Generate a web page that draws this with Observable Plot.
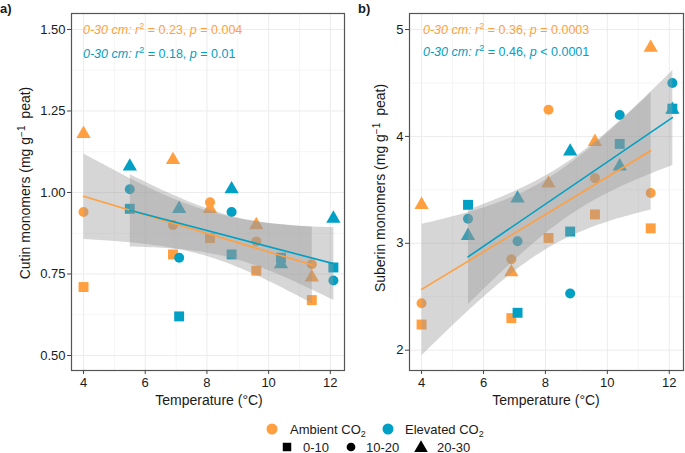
<!DOCTYPE html>
<html><head><meta charset="utf-8">
<script src="https://cdn.jsdelivr.net/npm/d3@7"></script>
<script src="https://cdn.jsdelivr.net/npm/@observablehq/plot@0.6"></script>
<style>
body{margin:0;background:#fff;font-family:"Liberation Sans",Arial,Helvetica,sans-serif;}
#wrap{position:relative;width:685px;height:453px;overflow:hidden;background:#fff}
#wrap > svg{position:absolute}
</style></head><body><div id="wrap"></div>
<script>
// ---- data ----
const ambientTemp = [4, 6.9, 8.1, 9.6, 11.4];
const elevatedTemp = [5.5, 7.1, 8.8, 10.4, 12.1];
const depths = ["0-10", "10-20", "20-30"];

// Cutin monomers (mg g-1 peat)
const cutinAmb_0_10  = [0.71, 0.81, 0.86, 0.76, 0.67];
const cutinAmb_10_20 = [0.94, 0.90, 0.97, 0.85, 0.78];
const cutinAmb_20_30 = [1.18, 1.10, 0.95, 0.90, 0.74];
const cutinElev_0_10  = [0.95, 0.62, 0.81, 0.80, 0.77];
const cutinElev_10_20 = [1.01, 0.80, 0.94, 0.79, 0.73];
const cutinElev_20_30 = [1.08, 0.95, 1.01, 0.78, 0.92];

// Suberin monomers (mg g-1 peat)
const suberinAmb_0_10  = [2.24, 2.30, 3.05, 3.27, 3.14];
const suberinAmb_10_20 = [2.44, 2.85, 4.25, 3.61, 3.47];
const suberinAmb_20_30 = [3.36, 2.73, 3.56, 3.95, 4.83];
const suberinElev_0_10  = [3.36, 2.35, 3.11, 3.93, 4.26];
const suberinElev_10_20 = [3.23, 3.02, 2.53, 4.20, 4.50];
const suberinElev_20_30 = [3.07, 3.42, 3.86, 3.72, 4.25];

const xTicks = [4, 6, 8, 10, 12];
const cutinTicks = [0.50, 0.75, 1.00, 1.25, 1.50];
const suberinTicks = [2, 3, 4, 5];
const statsCutin = [["0.23", "=", "0.004"], ["0.18", "=", "0.01"]];
const statsSuberin = [["0.36", "=", "0.0003"], ["0.46", "<", "0.0001"]];

const ORANGE = "#FF9F40", BLUE = "#00A0C4";
const FONT = '"Liberation Sans", Arial, Helvetica, sans-serif';

function rows(temps, vals, co2, depth) {
  return temps.map((t, i) => ({temp: t, value: vals[i], co2, depth}));
}
const cutin = [
  ...rows(ambientTemp, cutinAmb_0_10, "Ambient", "0-10"),
  ...rows(ambientTemp, cutinAmb_10_20, "Ambient", "10-20"),
  ...rows(ambientTemp, cutinAmb_20_30, "Ambient", "20-30"),
  ...rows(elevatedTemp, cutinElev_0_10, "Elevated", "0-10"),
  ...rows(elevatedTemp, cutinElev_10_20, "Elevated", "10-20"),
  ...rows(elevatedTemp, cutinElev_20_30, "Elevated", "20-30")
];
const suberin = [
  ...rows(ambientTemp, suberinAmb_0_10, "Ambient", "0-10"),
  ...rows(ambientTemp, suberinAmb_10_20, "Ambient", "10-20"),
  ...rows(ambientTemp, suberinAmb_20_30, "Ambient", "20-30"),
  ...rows(elevatedTemp, suberinElev_0_10, "Elevated", "0-10"),
  ...rows(elevatedTemp, suberinElev_10_20, "Elevated", "10-20"),
  ...rows(elevatedTemp, suberinElev_20_30, "Elevated", "20-30")
];

const symbolOf = {"0-10": "square", "10-20": "circle", "20-30": "triangle"};
const rOf = {"0-10": 5.6, "10-20": 5, "20-30": 5.3};
const colorOf = {"Ambient": ORANGE, "Elevated": BLUE};

function panel(data, {width, marginLeft, marginRight, yDomain, yTicks, yFormat, minorY}) {
  const marks = [
    Plot.gridX([5, 7, 9, 11], {stroke: "#f5f5f5", strokeOpacity: 1}),
    Plot.gridY(minorY, {stroke: "#f5f5f5", strokeOpacity: 1}),
    Plot.gridX(xTicks, {stroke: "#ececec", strokeOpacity: 1}),
    Plot.gridY(yTicks, {stroke: "#ececec", strokeOpacity: 1})
  ];
  for (const co2 of ["Ambient", "Elevated"]) {
    for (const dp of depths) {
      marks.push(Plot.dot(data.filter(d => d.co2 === co2 && d.depth === dp), {
        x: "temp", y: "value", symbol: symbolOf[dp], r: rOf[dp], fill: colorOf[co2], stroke: "none"
      }));
    }
  }
  for (const co2 of ["Ambient", "Elevated"]) {
    marks.push(Plot.linearRegressionY(data.filter(d => d.co2 === co2), {
      x: "temp", y: "value", stroke: "none", fill: "#999999", fillOpacity: 0.4, ci: 0.95
    }));
  }
  for (const co2 of ["Ambient", "Elevated"]) {
    marks.push(Plot.linearRegressionY(data.filter(d => d.co2 === co2), {
      x: "temp", y: "value", stroke: colorOf[co2], strokeWidth: 1.6, ci: 0
    }));
  }
  marks.push(Plot.frame({stroke: "#555", strokeWidth: 1.2}));
  marks.push(Plot.axisX(xTicks, {tickSize: 4, tickPadding: 3, stroke: "#444", fill: "#1a1a1a", label: null}));
  marks.push(Plot.axisY(yTicks, {tickSize: 4, tickPadding: 2, stroke: "#444", fill: "#1a1a1a", label: null, tickFormat: yFormat}));
  return Plot.plot({
    width, height: 410,
    marginLeft, marginRight, marginTop: 13, marginBottom: 40,
    x: {domain: [3.61, 12.46]},
    y: {domain: yDomain},
    style: {fontFamily: FONT, fontSize: "13px", background: "transparent", overflow: "visible"},
    marks
  });
}

const wrap = document.getElementById("wrap");

const left = panel(cutin, {
  width: 345, marginLeft: 71, marginRight: 1,
  yDomain: [0.454, 1.549], yTicks: cutinTicks, yFormat: d3.format(".2f"),
  minorY: [0.625, 0.875, 1.125, 1.375]
});
left.style.left = "0px"; left.style.top = "0px";
wrap.appendChild(left);

const right = panel(suberin, {
  width: 340, marginLeft: 64, marginRight: 2,
  yDomain: [1.81, 5.15], yTicks: suberinTicks, yFormat: d3.format("d"),
  minorY: [2.5, 3.5, 4.5]
});
right.style.left = "345px"; right.style.top = "0px";
wrap.appendChild(right);

function decorate(svgEl, {tag, tagX, ylabel, ylabelX, ylabelY, panelCenter, annX, annY, stats}) {
  const svg = d3.select(svgEl);
  const g = svg.append("g").attr("font-family", FONT).attr("fill", "#1a1a1a").attr("text-anchor", "start");
  g.append("text").attr("x", tagX).attr("y", 13).attr("font-size", 13).attr("font-weight", "bold")
    .attr("text-anchor", "start").text(tag);
  // x title
  g.append("text").attr("x", panelCenter).attr("y", 405).attr("text-anchor", "middle")
    .attr("font-size", 14).text("Temperature (°C)");
  // y title
  const yt = g.append("text").attr("transform", `translate(${ylabelX},${ylabelY}) rotate(-90)`)
    .attr("text-anchor", "middle").attr("font-size", 14);
  yt.append("tspan").text(ylabel + " (mg g");
  yt.append("tspan").attr("dy", -5.5).attr("font-size", 10).text("−1");
  yt.append("tspan").attr("dy", 5.5).attr("dx", 3).text(" peat)");
  // annotations
  stats.forEach((s, i) => {
    const col = i === 0 ? ORANGE : BLUE;
    const t = g.append("text").attr("x", annX).attr("y", annY[i]).attr("font-size", 12.5)
      .attr("text-anchor", "start").attr("fill", col);
    t.append("tspan").attr("font-style", "italic").text("0-30 cm: r");
    t.append("tspan").attr("dy", -5).attr("font-size", 9).text("2");
    t.append("tspan").attr("dy", 5).text(" = " + s[0] + ", ");
    t.append("tspan").attr("font-style", "italic").text("p");
    t.append("tspan").text(" " + s[1] + " " + s[2]);
  });
}

decorate(left, {tag: "a)", tagX: 0, ylabel: "Cutin monomers", ylabelX: 30, ylabelY: 183, panelCenter: 209,
  annX: 83, annY: [34, 58], stats: statsCutin});
decorate(right, {tag: "b)", tagX: 13, ylabel: "Suberin monomers", ylabelX: 40, ylabelY: 188, panelCenter: 201,
  annX: 78, annY: [34, 56], stats: statsSuberin});

// ---- legend ----
const leg = d3.select(wrap).append("svg").attr("width", 685).attr("height", 43)
  .style("left", "0px").style("top", "410px").attr("font-family", FONT).attr("font-size", 13);
const co2Items = [["Ambient", ORANGE, 272, 290], ["Elevated", BLUE, 388, 405]];
co2Items.forEach(([name, col, cx, tx]) => {
  leg.append("circle").attr("cx", cx).attr("cy", 19).attr("r", 5.5).attr("fill", col);
  const t = leg.append("text").attr("x", tx).attr("y", 23.5).attr("fill", "#1a1a1a");
  t.append("tspan").text(name + " CO");
  t.append("tspan").attr("dy", 3).attr("font-size", 9).text("2");
});
const depthItems = [["0-10", "square", 287, 303], ["10-20", "circle", 351, 366], ["20-30", "triangle", 421, 437]];
const d3sym = {square: d3.symbolSquare, circle: d3.symbolCircle, triangle: d3.symbolTriangle};
const legSize = {square: 72, circle: 60, triangle: 80};
depthItems.forEach(([name, sym, cx, tx]) => {
  leg.append("path").attr("transform", `translate(${cx},${sym === "triangle" ? 38 : 37})`)
    .attr("d", d3.symbol(d3sym[sym], legSize[sym])()).attr("fill", "#000");
  leg.append("text").attr("x", tx).attr("y", 41.5).attr("fill", "#1a1a1a").text(name);
});
</script></body></html>
